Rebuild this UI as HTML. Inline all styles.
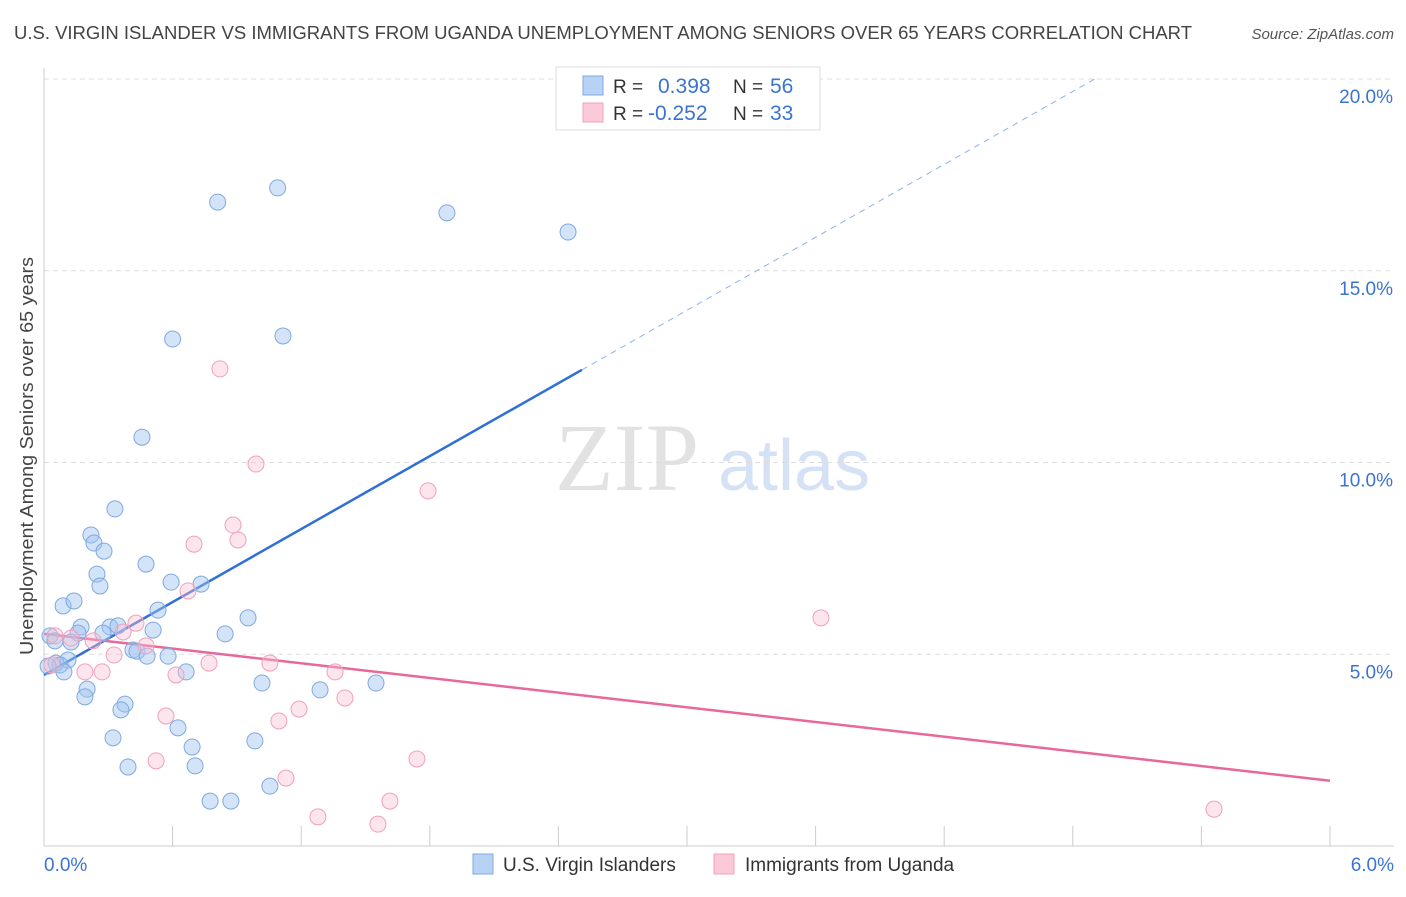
<!DOCTYPE html>
<html><head><meta charset="utf-8"><style>
body{margin:0;background:#fff;font-family:"Liberation Sans",sans-serif;}
svg text{font-family:"Liberation Sans",sans-serif;}
</style></head><body>
<svg id="chart" width="1406" height="892">
<text x="14" y="39" font-size="18" fill="#444" textLength="1178" lengthAdjust="spacingAndGlyphs">U.S. VIRGIN ISLANDER VS IMMIGRANTS FROM UGANDA UNEMPLOYMENT AMONG SENIORS OVER 65 YEARS CORRELATION CHART</text>
<text x="1394" y="39" font-size="15" fill="#555" text-anchor="end" font-style="italic">Source: ZipAtlas.com</text>
<text transform="translate(33,456) rotate(-90)" font-size="18" fill="#444" text-anchor="middle" textLength="398" lengthAdjust="spacingAndGlyphs">Unemployment Among Seniors over 65 years</text>
<text x="555" y="490" font-size="96" fill="#e2e2e2" style="font-family:'Liberation Serif',serif">ZIP</text>
<text x="718" y="490" font-size="72" fill="#d5e2f5">atlas</text>
<g id="grid"></g><g id="axes"></g><g id="trend"></g><g id="pts"></g>
<g>
<rect x="556" y="67" width="264" height="63" fill="#fff" stroke="#ddd"/>
<rect x="583" y="76" width="20" height="19" fill="#b8d2f5" stroke="#7fa9e0"/>
<rect x="583" y="103" width="20" height="19" fill="#fbc9d8" stroke="#f0a0bc"/>
<text x="613" y="93" font-size="19" fill="#333">R = </text><text x="658" y="93" font-size="21" fill="#3a74d0">0.398</text>
<text x="733" y="93" font-size="19" fill="#333">N = </text><text x="770" y="93" font-size="21" fill="#3a74d0">56</text>
<text x="613" y="120" font-size="19" fill="#333">R = </text><text x="648" y="120" font-size="21" fill="#3a74d0">-0.252</text>
<text x="733" y="120" font-size="19" fill="#333">N = </text><text x="770" y="120" font-size="21" fill="#3a74d0">33</text>
</g>
<g>
<rect x="473" y="854" width="20" height="20" fill="#b8d2f5" stroke="#7fa9e0"/>
<text x="503" y="871" font-size="19" fill="#333">U.S. Virgin Islanders</text>
<rect x="714" y="854" width="20" height="20" fill="#fbc9d8" stroke="#f0a0bc"/>
<text x="745" y="871" font-size="19" fill="#333">Immigrants from Uganda</text>
</g>
</svg>
<script>
const xTicks=[0,6];
const yTicks=[5,10,15,20];
const blueX=[0.81,1.09,1.88,2.445,0.60,1.115,0.457,0.331,0.219,0.233,0.28,0.476,0.247,0.261,0.593,0.733,0.089,0.14,0.532,0.952,0.173,0.308,0.345,0.509,0.845,0.159,0.275,0.028,0.051,0.126,0.415,0.434,0.481,0.579,0.112,0.056,0.075,0.019,0.093,0.663,1.017,1.549,1.288,0.201,0.191,0.378,0.359,0.625,0.322,0.984,0.691,0.392,0.705,0.775,0.872,1.054];
const blueY=[16.79,17.16,16.51,16.01,13.22,13.30,10.66,8.79,8.11,7.90,7.69,7.35,7.09,6.78,6.88,6.83,6.26,6.39,6.15,5.95,5.71,5.71,5.74,5.63,5.53,5.55,5.55,5.48,5.35,5.32,5.11,5.08,4.95,4.95,4.85,4.77,4.72,4.69,4.54,4.54,4.25,4.25,4.07,4.09,3.89,3.70,3.55,3.08,2.82,2.74,2.58,2.06,2.09,1.17,1.17,1.56];
const pinkX=[0.821,0.989,1.792,0.882,0.905,0.70,3.625,0.672,0.429,0.369,0.051,0.126,0.229,0.476,0.327,0.77,1.054,0.191,0.271,0.616,1.358,1.404,1.19,0.569,1.096,0.523,1.74,1.129,1.614,1.278,1.558,5.459,0.037];
const pinkY=[12.44,9.96,9.26,8.37,7.98,7.87,5.95,6.65,5.81,5.58,5.48,5.42,5.35,5.22,4.98,4.77,4.77,4.54,4.54,4.46,4.54,3.86,3.57,3.39,3.26,2.22,2.27,1.77,1.17,0.76,0.57,0.96,4.72];
const blueTrend=[4.46,3.17];
const pinkTrend=[5.53,-0.638];
const NS='http://www.w3.org/2000/svg';
const X=v=>44+v*214.33, Y=v=>846-v*38.35;
function mk(p,t,a){const e=document.createElementNS(NS,t);for(const k in a)e.setAttribute(k,a[k]);document.getElementById(p).appendChild(e);return e;}
yTicks.forEach(t=>{
 const l=mk('grid','line',{x1:44,x2:1394,y1:Y(t),y2:Y(t),stroke:'#ddd','stroke-dasharray':'5,4'});
 
 
 const tx=mk('grid','text',{x:1393,y:Y(t)+24,'font-size':19,fill:'#3a74d0','text-anchor':'end'});tx.textContent=t.toFixed(1)+'%';
 
 
});
mk('axes','line',{x1:44,x2:44,y1:68,y2:846,stroke:'#ccc'});
mk('axes','line',{x1:44,x2:1394,y1:846,y2:846,stroke:'#ccc'});
for(let i=0;i<=10;i++){const x=X(i*0.6);mk('axes','line',{x1:x,x2:x,y1:826,y2:846,stroke:'#ccc'});}
xTicks.forEach(t=>{const tx=mk('axes','text',{x:t===0?44:1394,y:871,'font-size':19,fill:'#3a74d0','text-anchor':t===0?'start':'end'});tx.textContent=t.toFixed(1)+'%';
 
 });
const bx=(20-blueTrend[0])/blueTrend[1];
let l1=mk('trend','line',{x1:X(0),y1:Y(blueTrend[0]),x2:X(2.51),y2:Y(blueTrend[0]+blueTrend[1]*2.51),stroke:'#2f6fd6','stroke-width':2.5});


let l2=mk('trend','line',{x1:X(2.51),y1:Y(blueTrend[0]+blueTrend[1]*2.51),x2:X(bx),y2:Y(20),stroke:'#8fb3e8','stroke-width':1,'stroke-dasharray':'6,5'});


let l3=mk('trend','line',{x1:X(0),y1:Y(pinkTrend[0]),x2:X(6),y2:Y(pinkTrend[0]+pinkTrend[1]*6),stroke:'#e8689a','stroke-width':2.5});


blueX.forEach((v,i)=>{const c=mk('pts','circle',{cx:X(v),cy:Y(blueY[i]),r:8,fill:'rgba(160,196,240,0.45)',stroke:'#7fa9e0','stroke-width':1});
 
 });
pinkX.forEach((v,i)=>{const c=mk('pts','circle',{cx:X(v),cy:Y(pinkY[i]),r:8,fill:'rgba(248,190,208,0.4)',stroke:'#f0a0bc','stroke-width':1});
 
 });
</script>
</body></html>
